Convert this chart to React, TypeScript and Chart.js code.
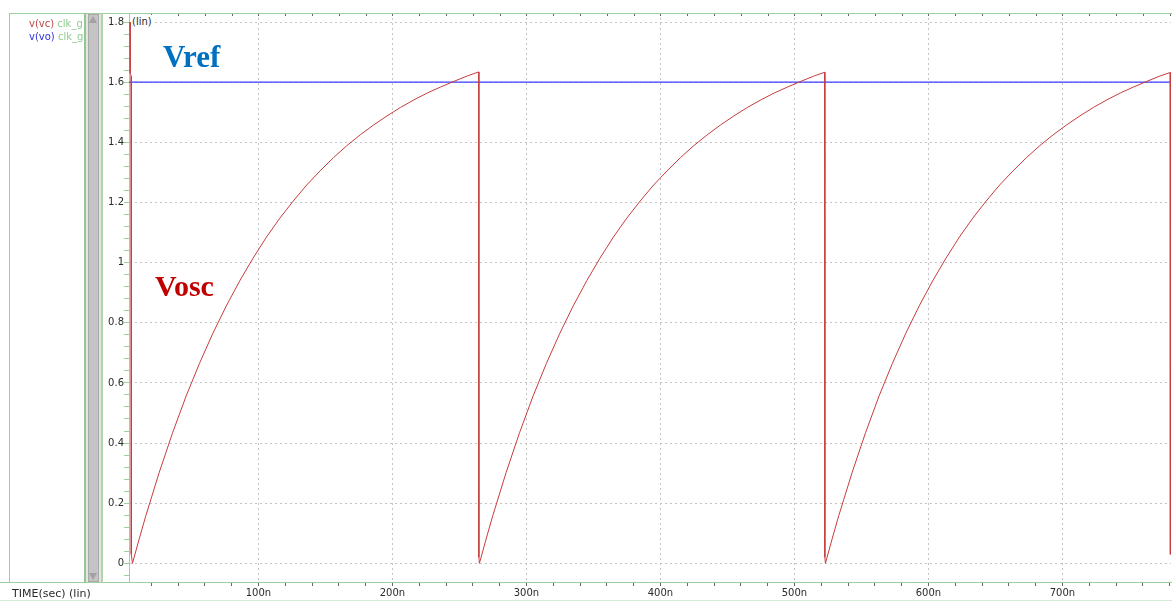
import React, { useEffect, useRef } from 'react';
import { Chart, registerables } from 'chart.js';

Chart.register(...registerables);

// ---- data (time in ns, voltage in V) ----
const vcTime = [
  4.2, 4.3, 5.0, 5.1, 6.0,
  11, 16, 26, 36, 46, 56, 66, 76, 86, 96, 106, 116, 126, 136, 146, 156, 166, 176, 186, 196, 206, 216, 226, 236, 246, 256, 264.4,
  264.5, 264.9,
  269.9, 274.9, 284.9, 294.9, 304.9, 314.9, 324.9, 334.9, 344.9, 354.9, 364.9, 374.9, 384.9, 394.9, 404.9, 414.9, 424.9, 434.9, 444.9, 454.9, 464.9, 474.9, 484.9, 494.9, 504.9, 514.9, 522.6,
  522.7, 523.1,
  528.1, 533.1, 543.1, 553.1, 563.1, 573.1, 583.1, 593.1, 603.1, 613.1, 623.1, 633.1, 643.1, 653.1, 663.1, 673.1, 683.1, 693.1, 703.1, 713.1, 723.1, 733.1, 743.1, 753.1, 763.1, 773.1, 780.4,
  780.5,
];
const vcVolt = [
  1.8, 1.63, 1.62, 0.03, 0,
  0.081, 0.159, 0.303, 0.435, 0.556, 0.665, 0.765, 0.856, 0.939, 1.015, 1.085, 1.148, 1.205, 1.258, 1.305, 1.349, 1.389, 1.425, 1.458, 1.488, 1.516, 1.541, 1.564, 1.584, 1.603, 1.621, 1.634,
  0.02, 0,
  0.081, 0.159, 0.303, 0.435, 0.556, 0.665, 0.765, 0.856, 0.939, 1.015, 1.085, 1.148, 1.205, 1.258, 1.305, 1.349, 1.389, 1.425, 1.458, 1.488, 1.516, 1.541, 1.564, 1.584, 1.603, 1.621, 1.633,
  0.02, 0,
  0.081, 0.159, 0.303, 0.435, 0.556, 0.665, 0.765, 0.856, 0.939, 1.015, 1.085, 1.148, 1.205, 1.258, 1.305, 1.349, 1.389, 1.425, 1.458, 1.488, 1.516, 1.541, 1.564, 1.584, 1.603, 1.621, 1.632,
  0.03,
];
const voTime = [3.4, 781];
const voVolt = [1.6, 1.6];

const X_MIN = 3.4;
const X_MAX = 781;
const Y_MIN = -0.062;
const Y_MAX = 1.83;
const xMajorTicks = [100, 200, 300, 400, 500, 600, 700];
const X_MINOR_STEP = 20;
const yMajorTicks = [0, 0.2, 0.4, 0.6, 0.8, 1, 1.2, 1.4, 1.6, 1.8];
const Y_MINOR_STEP = 0.04;

const GREEN = '#9dd09d';
const GRID = '#c4c4c4';
const RED = '#c83c3c';
const BLUE = '#3c3cff';
const FONT = '"DejaVu Sans", sans-serif';

const xTicks: number[] = [];
for (let v = X_MINOR_STEP; v <= X_MAX; v += X_MINOR_STEP) xTicks.push(v);
const yTicks: number[] = [];
for (let k = -1; k * Y_MINOR_STEP <= Y_MAX; k++) yTicks.push(Math.round(k * Y_MINOR_STEP * 100) / 100);

const isMajorX = (v: number) => xMajorTicks.some((m) => Math.abs(m - v) < 1e-6);
const isMajorY = (v: number) => yMajorTicks.some((m) => Math.abs(m - v) < 1e-6);

const topTicks = {
  id: 'topTicks',
  afterDraw(chart: any) {
    const { ctx, chartArea, scales } = chart;
    const xs = scales.x;
    ctx.save();
    ctx.strokeStyle = '#666';
    ctx.lineWidth = 1;
    xs.ticks.forEach((t: any) => {
      const px = Math.round(xs.getPixelForValue(t.value)) + 0.5;
      ctx.beginPath();
      ctx.moveTo(px, chartArea.top);
      ctx.lineTo(px, chartArea.top + 3);
      ctx.stroke();
    });
    ctx.restore();
  },
};

export default function App() {
  const ref = useRef<HTMLCanvasElement>(null);

  useEffect(() => {
    const vcData = vcTime.map((t, i) => ({ x: t, y: vcVolt[i] }));
    const voData = voTime.map((t, i) => ({ x: t, y: voVolt[i] }));
    const chart = new Chart(ref.current as HTMLCanvasElement, {
      type: 'line',
      data: {
        datasets: [
          { label: 'v(vc)', data: vcData, borderColor: RED, borderWidth: 1, pointRadius: 0, tension: 0, fill: false },
          { label: 'v(vo)', data: voData, borderColor: BLUE, borderWidth: 1.3, pointRadius: 0, tension: 0, fill: false },
        ],
      },
      options: {
        responsive: false,
        animation: false,
        events: [],
        layout: { padding: { top: 13, left: 0, right: 1, bottom: 0 } },
        plugins: { legend: { display: false }, tooltip: { enabled: false } },
        scales: {
          x: {
            type: 'linear',
            min: X_MIN,
            max: X_MAX,
            afterBuildTicks: (s: any) => {
              s.ticks = xTicks.map((v) => ({ value: v }));
            },
            afterFit: (s: any) => {
              s.height = 19;
            },
            ticks: {
              autoSkip: false,
              maxRotation: 0,
              minRotation: 0,
              padding: 1,
              color: '#2a2a2a',
              font: { family: FONT, size: 10 },
              callback: (v: any) => (isMajorX(Number(v)) ? `${Math.round(Number(v))}n` : ''),
            },
            grid: {
              color: (c: any) => (c.tick && isMajorX(c.tick.value) ? GRID : 'rgba(0,0,0,0)'),
              tickColor: '#666',
              tickLength: 4,
              lineWidth: 1,
            },
            border: { color: GREEN, width: 1, dash: [2, 3] },
          },
          y: {
            type: 'linear',
            min: Y_MIN,
            max: Y_MAX,
            afterBuildTicks: (s: any) => {
              s.ticks = yTicks.map((v) => ({ value: v }));
            },
            afterFit: (s: any) => {
              s.width = 129;
            },
            ticks: {
              autoSkip: false,
              padding: 0,
              color: '#2a2a2a',
              font: { family: FONT, size: 10 },
              callback: (v: any) => (isMajorY(Number(v)) ? String(Math.round(Number(v) * 10) / 10) : ''),
            },
            grid: {
              color: (c: any) => (c.tick && isMajorY(c.tick.value) ? GRID : 'rgba(0,0,0,0)'),
              tickColor: GREEN,
              tickLength: 5,
              lineWidth: 1,
            },
            border: { color: GREEN, width: 1, dash: [2, 3] },
          },
        },
      },
      plugins: [topTicks],
    } as any);
    return () => chart.destroy();
  }, []);

  const abs = (s: React.CSSProperties): React.CSSProperties => ({ position: 'absolute', ...s });

  return (
    <div style={{ position: 'absolute', left: 0, top: 0, width: 1172, height: 601, background: '#fff', overflow: 'hidden' }}>
      <canvas ref={ref} width={1172} height={601} style={{ position: 'absolute', left: 0, top: 0, width: 1172, height: 601 }} />
      {/* frame lines */}
      <div style={abs({ left: 9, top: 13, width: 1163, height: 1, background: GREEN })} />
      <div style={abs({ left: 9, top: 13, width: 1, height: 570, background: GREEN })} />
      <div style={abs({ left: 0, top: 582, width: 130, height: 1, background: GREEN })} />
      <div style={abs({ left: 0, top: 600, width: 1172, height: 1, background: '#d4ecd4' })} />
      {/* legend panel */}
      <div style={abs({ left: 10, top: 14, width: 74, height: 568, overflow: 'hidden', fontFamily: FONT, fontSize: 10, lineHeight: '13px', whiteSpace: 'nowrap' })}>
        <div style={abs({ left: 19, top: 3 })}>
          <span style={{ color: '#c04848' }}>v(vc)</span>
          <span style={{ color: '#8fcb8f' }}> clk_g</span>
        </div>
        <div style={abs({ left: 19, top: 16.3 })}>
          <span style={{ color: '#3030e0' }}>v(vo)</span>
          <span style={{ color: '#8fcb8f' }}> clk_g</span>
        </div>
      </div>
      {/* scrollbar */}
      <div style={abs({ left: 84, top: 13, width: 2, height: 570, background: '#8fc98f' })} />
      <div style={abs({ left: 86, top: 14, width: 15, height: 568, background: '#e4e4e4' })} />
      <div style={abs({ left: 88, top: 14, width: 9, height: 566, background: '#c4c4c4', border: '1px solid #a9a9a9' })} />
      <div style={abs({ left: 89, top: 16, width: 0, height: 0, borderLeft: '4.5px solid transparent', borderRight: '4.5px solid transparent', borderBottom: '7px solid #a2a2a2' })} />
      <div style={abs({ left: 89, top: 573, width: 0, height: 0, borderLeft: '4.5px solid transparent', borderRight: '4.5px solid transparent', borderTop: '7px solid #a2a2a2' })} />
      <div style={abs({ left: 101, top: 13, width: 2, height: 570, background: '#aad6aa' })} />
      {/* axis captions */}
      <div style={abs({ left: 131, top: 15, padding: '0 1px', background: '#fff', fontFamily: FONT, fontSize: 10, lineHeight: '13px', color: '#2a2a2a' })}>(lin)</div>
      <div style={abs({ left: 12, top: 587, fontFamily: FONT, fontSize: 11, lineHeight: '13px', color: '#2a2a2a', whiteSpace: 'nowrap' })}>TIME(sec) (lin)</div>
      {/* annotations */}
      <div style={abs({ left: 163, top: 41, fontFamily: '"Liberation Serif", serif', fontWeight: 'bold', fontSize: 31, lineHeight: '31px', color: '#0070c0' })}>Vref</div>
      <div style={abs({ left: 155, top: 271, fontFamily: '"Liberation Serif", serif', fontWeight: 'bold', fontSize: 30, lineHeight: '30px', color: '#c00000' })}>Vosc</div>
    </div>
  );
}
